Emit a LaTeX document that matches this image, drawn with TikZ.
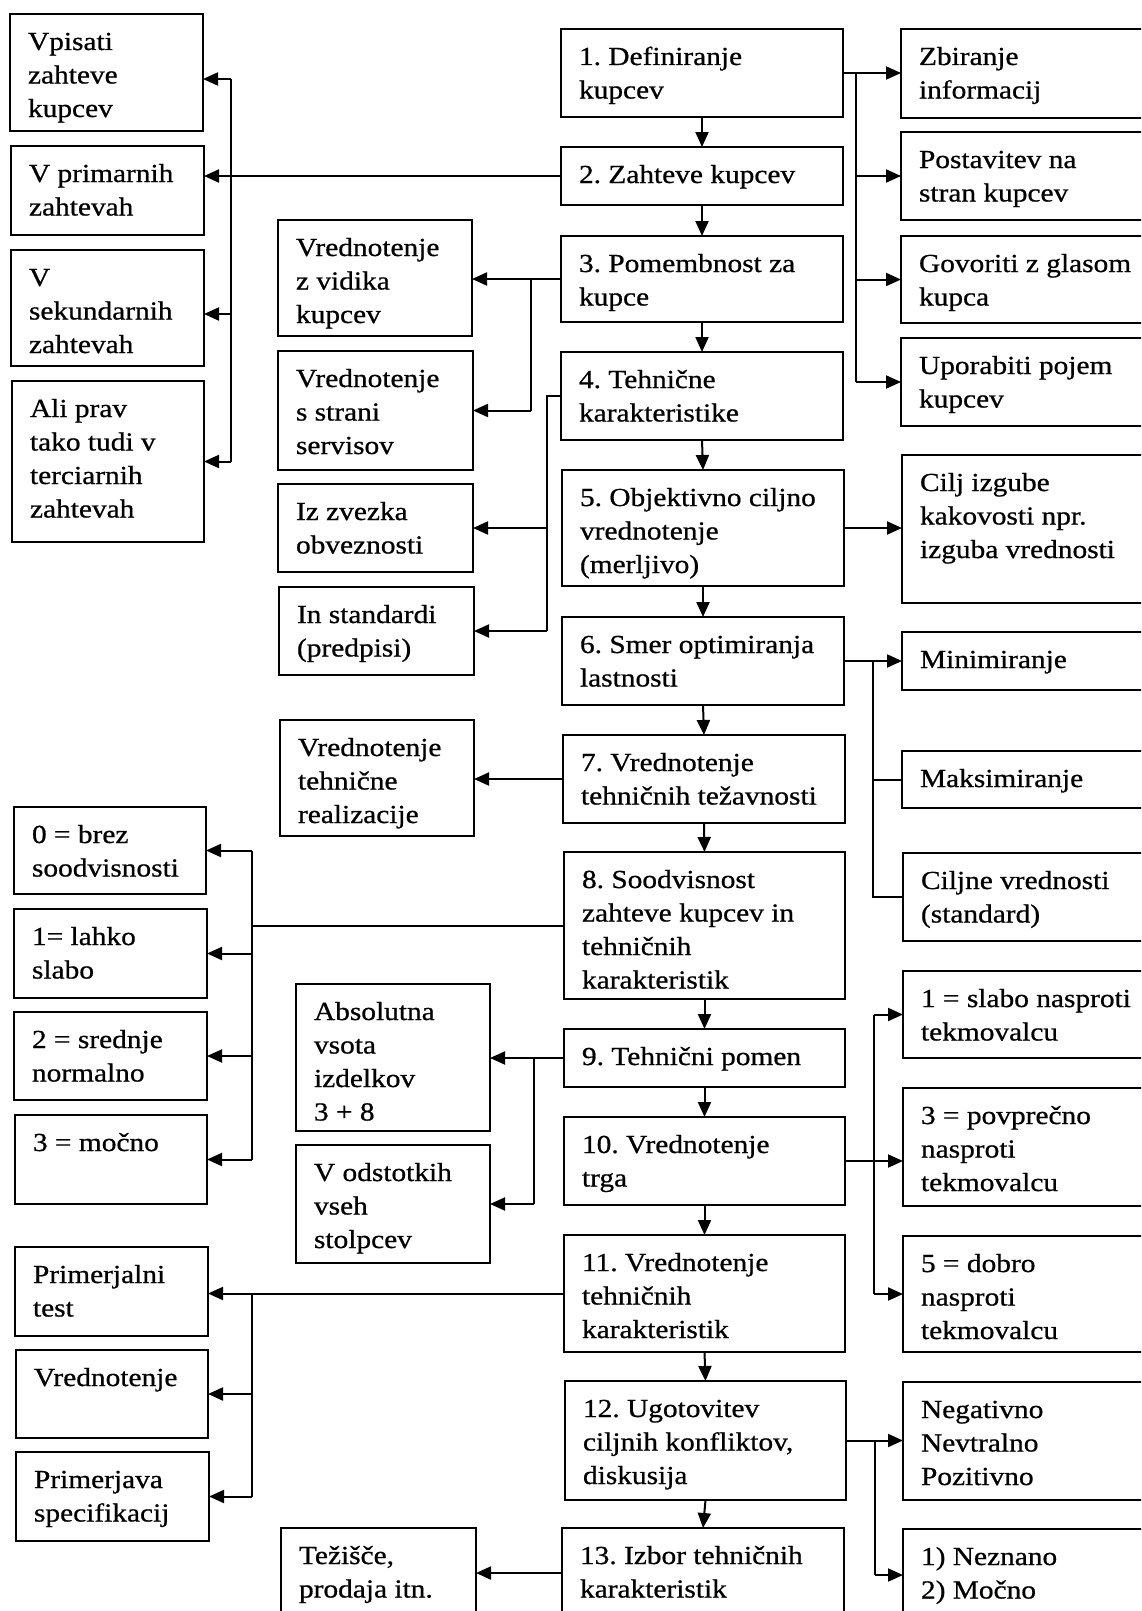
\documentclass[tikz,border=0pt]{standalone}
\usepackage{fontspec}
\setmainfont{Liberation Serif}[FakeStretch=1.13,FakeBold=0.7]
\usetikzlibrary{arrows.meta}

\tikzset{
  boxst/.style={draw, line width=2.2pt, inner sep=0pt, outer sep=0pt},
  arr/.style={-{Triangle[length=15pt,width=13pt]}, line width=2pt},
  ln/.style={line width=2pt},
}

% box with corners (x1,y1)-(x2,y2) in pixel units, text set from the top left
\newcommand\mkbox[6]{%
  \node[boxst, anchor=north west] (#1) at (#2,#3)
   {\parbox[c][\dimexpr#5pt-#3pt\relax][t]{\dimexpr#4pt-#2pt\relax}{%
     \fontsize{26}{33.5}\selectfont\frenchspacing
     \leftskip=18pt\rightskip=0pt plus 1fil\parindent=0pt
     \rule{0pt}{36pt}#6}};}

\begin{document}
\begin{tikzpicture}[x=1pt,y=-1pt]
\path[use as bounding box] (0,0) rectangle (1141,1611);
\fill[white] (0,0) rectangle (1141,1611);
\clip (0,0) rectangle (1141,1611);

% main sequence
\mkbox{B1}{561}{29}{843}{117}{1. Definiranje\\kupcev}
\mkbox{B2}{561}{147}{843}{205}{2. Zahteve kupcev}
\mkbox{B3}{561}{236}{843}{322}{3. Pomembnost za\\kupce}
\mkbox{B4}{561}{352}{843}{440}{4. Tehnične\\karakteristike}
\mkbox{B5}{562}{470}{844}{586}{5. Objektivno ciljno\\vrednotenje\\(merljivo)}
\mkbox{B6}{562}{617}{844}{705}{6. Smer optimiranja\\lastnosti}
\mkbox{B7}{563}{735}{845}{823}{7. Vrednotenje\\tehničnih težavnosti}
\mkbox{B8}{564}{852}{845}{999}{8. Soodvisnost\\zahteve kupcev in\\tehničnih\\karakteristik}
\mkbox{B9}{564}{1029}{845}{1087}{9. Tehnični pomen}
\mkbox{B10}{564}{1117}{845}{1205}{10. Vrednotenje\\trga}
\mkbox{B11}{564}{1235}{845}{1352}{11. Vrednotenje\\tehničnih\\karakteristik}
\mkbox{B12}{565}{1381}{846}{1500}{12. Ugotovitev\\ciljnih konfliktov,\\diskusija}
\mkbox{B13}{562}{1528}{844}{1618}{13. Izbor tehničnih\\karakteristik}

% right column
\mkbox{R1}{901}{29}{1200}{118}{Zbiranje\\informacij}
\mkbox{R2}{901}{132}{1200}{220}{Postavitev na\\stran kupcev}
\mkbox{R3}{901}{236}{1200}{323}{Govoriti z glasom\\kupca}
\mkbox{R4}{901}{338}{1200}{426}{Uporabiti pojem\\kupcev}
\mkbox{R5}{902}{455}{1200}{603}{Cilj izgube\\kakovosti npr.\\izguba vrednosti}
\mkbox{R6}{902}{632}{1200}{690}{Minimiranje}
\mkbox{R7}{902}{751}{1200}{808}{Maksimiranje}
\mkbox{R8}{903}{853}{1200}{941}{Ciljne vrednosti\\(standard)}
\mkbox{R9}{903}{971}{1200}{1058}{1 = slabo nasproti\\tekmovalcu}
\mkbox{R10}{903}{1088}{1200}{1206}{3 = povprečno\\nasproti\\tekmovalcu}
\mkbox{R11}{903}{1236}{1200}{1352}{5 = dobro\\nasproti\\tekmovalcu}
\mkbox{R12}{903}{1382}{1200}{1500}{Negativno\\Nevtralno\\Pozitivno}
\mkbox{R13}{903}{1529}{1200}{1621}{1) Neznano\\2) Močno}

% left column
\mkbox{L1}{10}{14}{203}{131}{Vpisati\\zahteve\\kupcev}
\mkbox{L2}{11}{146}{204}{235}{V primarnih\\zahtevah}
\mkbox{L3}{11}{250}{204}{366}{V\\sekundarnih\\zahtevah}
\mkbox{L4}{12}{381}{204}{542}{Ali prav\\tako tudi v\\terciarnih\\zahtevah}
\mkbox{L5}{14}{807}{206}{894}{0 = brez\\soodvisnosti}
\mkbox{L6}{14}{909}{207}{998}{1= lahko\\slabo}
\mkbox{L7}{14}{1012}{207}{1100}{2 = srednje\\normalno}
\mkbox{L8}{15}{1115}{207}{1204}{3 = močno}
\mkbox{L9}{15}{1247}{208}{1336}{Primerjalni\\test}
\mkbox{L10}{16}{1350}{208}{1438}{Vrednotenje}
\mkbox{L11}{16}{1452}{209}{1541}{Primerjava\\specifikacij}

% middle column
\mkbox{M1}{278}{220}{472}{336}{Vrednotenje\\z vidika\\kupcev}
\mkbox{M2}{278}{351}{473}{470}{Vrednotenje\\s strani\\servisov}
\mkbox{M3}{278}{484}{473}{572}{Iz zvezka\\obveznosti}
\mkbox{M4}{279}{587}{474}{675}{In standardi\\(predpisi)}
\mkbox{M5}{280}{720}{474}{836}{Vrednotenje\\tehnične\\realizacije}
\mkbox{M6}{296}{984}{490}{1131}{Absolutna\\vsota\\izdelkov\\3 + 8}
\mkbox{M7}{296}{1145}{490}{1263}{V odstotkih\\vseh\\stolpcev}
\mkbox{M8}{281}{1528}{476}{1618}{Težišče,\\prodaja itn.}

% bus positions
\coordinate (xr1) at (856,0);
\coordinate (xr2) at (873,0);
\coordinate (xr3) at (874,0);
\coordinate (xr4) at (875,0);
\coordinate (xl1) at (231,0);
\coordinate (xl2) at (252,0);
\coordinate (xm1) at (531,0);
\coordinate (xm2) at (547,0);
\coordinate (xm3) at (534,0);
\coordinate (t1) at (231,79);
\coordinate (t3) at (231,314);

% main flow
\foreach \a/\b in {B1/B2,B2/B3,B3/B4,B4/B5,B5/B6,B6/B7,B7/B8,B8/B9,B9/B10,B10/B11,B11/B12,B12/B13}
  \draw[arr] (\a.south) -- (\b.north);

% right branches
\draw[arr] (B1.east) -- (B1.east -| R1.west);
\draw[ln] (B1.east -| xr1) -- (R4.west -| xr1);
\draw[arr] (R2.west -| xr1) -- (R2.west);
\draw[arr] (R3.west -| xr1) -- (R3.west);
\draw[arr] (R4.west -| xr1) -- (R4.west);
\draw[arr] (B5.east) -- (B5.east -| R5.west);
\draw[arr] (B6.east) -- (B6.east -| R6.west);
\draw[ln] (B6.east -| xr2) |- (R8.west);
\draw[ln] (R7.west -| xr2) -- (R7.west);
\draw[arr] (B10.east) -- (B10.east -| R10.west);
\draw[arr] (R9.west -| xr3) -- (R9.west);
\draw[ln] (R9.west -| xr3) -- (R11.west -| xr3);
\draw[arr] (R11.west -| xr3) -- (R11.west);
\draw[arr] (B12.east) -- (B12.east -| R12.west);
\draw[ln] (B12.east -| xr4) -- (R13.west -| xr4);
\draw[arr] (R13.west -| xr4) -- (R13.west);

% left branches
\draw[arr] (B2.west) -- (B2.west -| L2.east);
\draw[ln] (t1) -- (L4.east -| xl1);
\draw[arr] (t1) -- (t1 -| L1.east);
\draw[arr] (t3) -- (t3 -| L3.east);
\draw[arr] (L4.east -| xl1) -- (L4.east);

\draw[arr] (B3.west) -- (B3.west -| M1.east);
\draw[ln] (B3.west -| xm1) -- (M2.east -| xm1);
\draw[arr] (M2.east -| xm1) -- (M2.east);

\draw[ln] (B4.west) -| (M4.east -| xm2);
\draw[arr] (M3.east -| xm2) -- (M3.east);
\draw[arr] (M4.east -| xm2) -- (M4.east);

\draw[arr] (B7.west) -- (B7.west -| M5.east);

\draw[ln] (B8.west) -- (B8.west -| xl2);
\draw[ln] (L5.east -| xl2) -- (L8.east -| xl2);
\foreach \n in {L5,L6,L7,L8} \draw[arr] (\n.east -| xl2) -- (\n.east);

\draw[arr] (B9.west) -- (B9.west -| M6.east);
\draw[ln] (B9.west -| xm3) -- (M7.east -| xm3);
\draw[arr] (M7.east -| xm3) -- (M7.east);

\draw[arr] (B11.west) -- (B11.west -| L9.east);
\draw[ln] (B11.west -| xl2) -- (L11.east -| xl2);
\draw[arr] (L10.east -| xl2) -- (L10.east);
\draw[arr] (L11.east -| xl2) -- (L11.east);

\draw[arr] (B13.west) -- (B13.west -| M8.east);
\end{tikzpicture}
\end{document}
